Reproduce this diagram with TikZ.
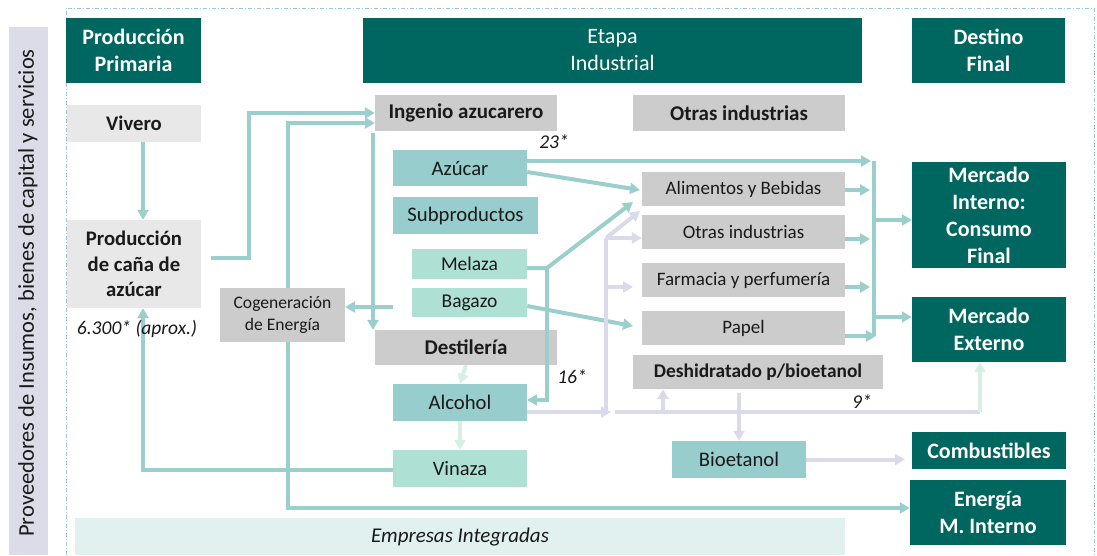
\documentclass[tikz,border=0pt]{standalone}
\usepackage{fontspec}
\setmainfont{Carlito}
\usetikzlibrary{arrows.meta,calc}
\definecolor{dteal}{RGB}{0,102,96}
\definecolor{gbox}{RGB}{204,204,204}
\definecolor{lbox}{RGB}{232,232,232}
\definecolor{tbox}{RGB}{151,205,204}
\definecolor{mbox}{RGB}{174,224,211}
\definecolor{tline}{RGB}{154,207,205}
\definecolor{lav}{RGB}{218,218,234}
\definecolor{pgreen}{RGB}{216,239,230}
\definecolor{bar}{RGB}{220,220,232}
\definecolor{emp}{RGB}{224,241,240}
\definecolor{frame}{RGB}{157,195,230}
\definecolor{ink}{RGB}{26,26,26}
\tikzset{
  box/.style={inner sep=0pt, align=center, text=ink},
  hdr/.style={box, fill=dteal, text=white, font=\bfseries\fontsize{22}{27}\selectfont},
  gb/.style={box, fill=gbox, font=\fontsize{19}{22}\selectfont},
  gbb/.style={gb, font=\bfseries\fontsize{21}{24}\selectfont},
  lb/.style={box, fill=lbox, font=\bfseries\fontsize{20.7}{25.5}\selectfont},
  tb/.style={box, fill=tbox, font=\fontsize{20.7}{24}\selectfont},
  mb/.style={box, fill=mbox, font=\fontsize{19.5}{22}\selectfont},
  lab/.style={font=\itshape\fontsize{19.5}{22}\selectfont, text=ink, inner sep=0pt},
  tip/.style={-{Triangle[length=10pt,width=11pt]}},
  tl/.style={line width=4pt, draw=tline},
  ta/.style={tl, tip},
  la/.style={line width=4pt, draw=lav, tip},
  ll/.style={line width=4pt, draw=lav},
  pa/.style={line width=4pt, draw=pgreen, tip},
}
\begin{document}
\begin{tikzpicture}[x=1pt,y=-1pt]
\useasboundingbox (0,0) rectangle (1097,555);
% left bar and frame
\fill[bar] (9,27) rectangle (48,555);
\node[rotate=90, font=\fontsize{22.5}{26}\selectfont, text=ink] (prov) at (28,293) {Proveedores de Insumos, bienes de capital y servicios};
\draw[frame, line width=1pt, dash pattern=on 4pt off 2pt on 1pt off 2pt] (66,555) -- (66,8) -- (1094,8) -- (1094,555);
\node[box, fill=emp, minimum width=770pt, minimum height=37pt, font=\itshape\fontsize{21}{24}\selectfont] (emp) at (460,536.5) {Empresas Integradas};

% headers
\node[hdr, minimum width=135pt, minimum height=65pt] (pp) at (133.5,50.5) {Producción\\Primaria};
\node[hdr, minimum width=499pt, minimum height=65pt, font=\fontsize{22}{27}\selectfont] (ei) at (612.5,50.5) {Etapa\\Industrial};
\node[hdr, minimum width=153pt, minimum height=65pt] (df) at (988.5,50.5) {Destino\\Final};

% primary
\node[lb, minimum width=134pt, minimum height=37pt] (viv) at (134,123.5) {Vivero};
\node[lb, minimum width=134pt, minimum height=88pt] (pca) at (134,264) {Producción\\de caña de\\azúcar};
\node[gb, minimum width=125pt, minimum height=54pt, font=\fontsize{17.6}{22}\selectfont] (cog) at (282.5,315) {Cogeneración\\de Energía};

% industrial
\node[gbb, minimum width=182pt, minimum height=36pt] (ing) at (466,113) {Ingenio azucarero};
\node[tb, minimum width=134pt, minimum height=36pt] (azu) at (460,168) {Azúcar};
\node[tb, minimum width=145pt, minimum height=37pt] (sub) at (465.5,215.5) {Subproductos};
\node[mb, minimum width=115pt, minimum height=30pt] (mel) at (469.5,264) {Melaza};
\node[mb, minimum width=115pt, minimum height=29pt] (bag) at (469.5,302.5) {Bagazo};
\node[gbb, minimum width=182pt, minimum height=35pt] (des) at (466,347.5) {Destilería};
\node[tb, minimum width=134pt, minimum height=37pt] (alc) at (460,402.5) {Alcohol};
\node[mb, minimum width=134pt, minimum height=37pt, font=\fontsize{20.5}{24}\selectfont] (vin) at (460,468.5) {Vinaza};

\node[gbb, minimum width=212pt, minimum height=36pt] (oi) at (739,113) {Otras industrias};
\node[gb, minimum width=203pt, minimum height=34pt] (ali) at (743.5,189) {Alimentos y Bebidas};
\node[gb, minimum width=203pt, minimum height=34pt] (otr) at (743.5,232) {Otras industrias};
\node[gb, minimum width=203pt, minimum height=34pt] (far) at (743.5,280) {Farmacia y perfumería};
\node[gb, minimum width=203pt, minimum height=34pt] (pap) at (743.5,328) {Papel};
\node[gbb, minimum width=250pt, minimum height=34pt, font=\bfseries\fontsize{19.4}{22}\selectfont] (deh) at (758,372) {Deshidratado p/bioetanol};
\node[tb, minimum width=134pt, minimum height=37pt] (bio) at (739,459.5) {Bioetanol};

% destinations
\node[hdr, minimum width=154pt, minimum height=106pt] (mi) at (989,215) {Mercado\\Interno:\\Consumo\\Final};
\node[hdr, minimum width=154pt, minimum height=65pt] (me) at (989,329.5) {Mercado\\Externo};
\node[hdr, minimum width=154pt, minimum height=37pt] (com) at (989,450.5) {Combustibles};
\node[hdr, minimum width=156pt, minimum height=65pt] (ene) at (988,512.5) {Energía\\M. Interno};

% labels
\node[lab] (l23) at (554,142) {23*};
\node[lab] (l16) at (572,377) {16*};
\node[lab] (l9) at (862,402) {9*};

% coordinates
\coordinate (busT) at (874,161);
\coordinate (busB) at (874,336);
\coordinate (mj) at (547,268);
\coordinate (lv) at (606,412);
\coordinate (lvt) at (606,238);
\coordinate (hr) at (980,412);

% teal connectors
\draw[ta] (viv.south -| 143,0) -- (pca.north -| 143,0);
\draw[ta] (pca.east |- 0,258) ++(10,0) -- (249,258) -- (249,113) -- (ing.west |- 0,113);
\draw[ta] (cog.north -| 288,0) -- (288,123) -- (ing.west |- 0,123);
\draw[ta] (cog.south -| 288,0) -- (288,508) -- (ene.west |- 0,508);
\draw[ta] (373,133) -- (des.north -| 373,0);
\draw[ta] (393,307) -- (cog.east |- 0,307);
\draw[ta] (vin.west |- 0,470) -- (143,470) -- (pca.south -| 143,0);
\draw[ta] (azu.east |- 0,161) -- ($(busT)+(-3,0)$);
\draw[tl] (busT) -- (busB);
\draw[ta] (azu.east |- 0,172) -- (640,190);
\draw[ta] (mel.east |- 0,268) -- (mj) -- (633,202);
\draw[ta] (mj) -- (547,400) -- (alc.east |- 0,400);
\draw[ta] (bag.east |- 0,306) -- (633,326);
\draw[ta] (ali.east |- 0,190) -- (870,190);
\draw[ta] (otr.east |- 0,239) -- (870,239);
\draw[ta] (far.east |- 0,287) -- (870,287);
\draw[ta] (pap.east |- 0,336) -- (876,336);
\draw[ta] (874,220) -- (mi.west |- 0,220);
\draw[ta] (874,317) -- (me.west |- 0,317);

% lavender connectors
\draw[la] (alc.east |- 0,412) -- (611,412);
\draw[ll] (lv) -- (lvt);
\draw[la] (lvt) -- (640,211);
\draw[la] (lvt) -- (otr.west |- 0,238);
\draw[la] (606,287) -- (633,287);
\draw[ll] (615,412) -- (hr);
\draw[pa] (hr) -- (me.south -| 980,0);
\draw[la] (663,412) -- (deh.south -| 663,0);
\draw[la] (deh.south -| 739,0) ++(0,4) -- (bio.north);
\draw[la] (bio.east) -- (905,459.5);
% pale green
\draw[pa] (des.south) -- (alc.north);
\draw[pa] (alc.south) -- (vin.north);

\node[lab] (l63) at (137,329) {6.300* (aprox.)};
\end{tikzpicture}
\end{document}
